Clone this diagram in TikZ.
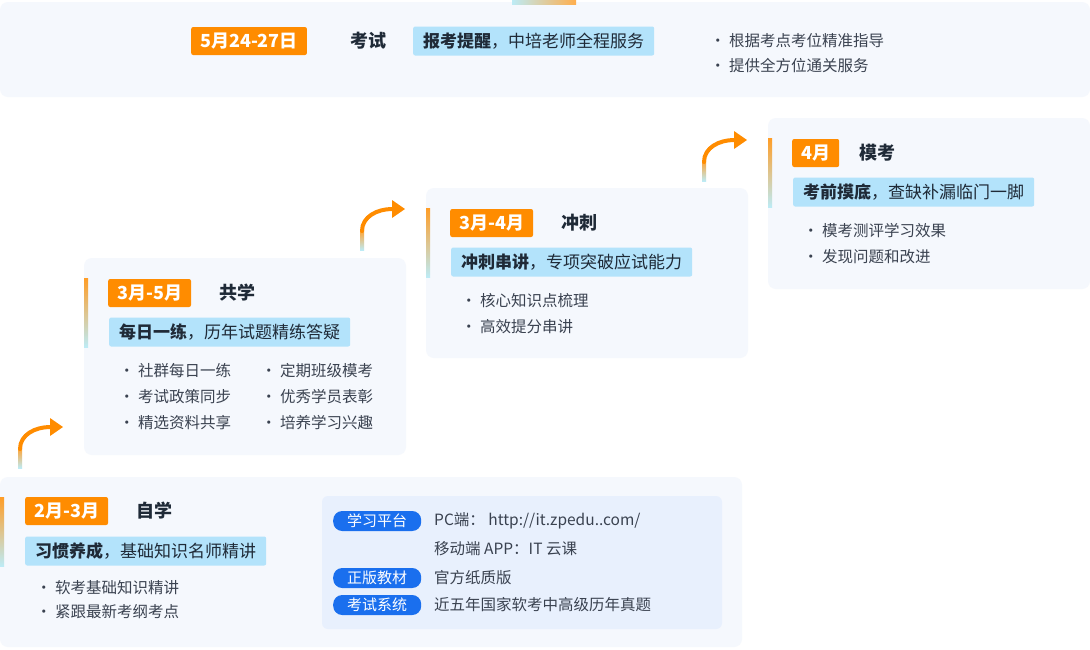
\documentclass[tikz,border=0pt]{standalone}
\usepackage{fontspec}
\setmainfont{Noto Sans CJK SC}
\definecolor{cardbg}{HTML}{F5F8FD}
\definecolor{innerbg}{HTML}{E8F0FD}
\definecolor{orng}{HTML}{FF8C00}
\definecolor{labbg}{HTML}{B3E3FB}
\definecolor{pillc}{HTML}{1A6FEE}
\definecolor{txt}{HTML}{1F2A37}
\definecolor{gtxt}{HTML}{3A4250}
\definecolor{lblue}{HTML}{BDEBF5}
\tikzset{
 card/.style={fill=cardbg,rounded corners=8pt,draw=none},
 tag/.style={fill=orng,text=white,rounded corners=2pt,anchor=west,minimum height=28pt,inner xsep=9pt,inner ysep=0pt,font=\fontsize{18}{20}\selectfont\bfseries},
 ttl/.style={anchor=west,text=txt,font=\fontsize{18}{20}\selectfont\bfseries,inner sep=0pt},
 lab/.style={fill=labbg,text=txt,rounded corners=2pt,anchor=west,minimum height=29pt,inner xsep=10pt,inner ysep=0pt,font=\fontsize{17}{20}\selectfont},
 bul/.style={anchor=west,text=gtxt,inner sep=0pt,font=\fontsize{15.5}{18}\selectfont},
 pill/.style={fill=pillc,text=white,rounded corners=9pt,anchor=west,minimum height=20pt,minimum width=88pt,inner sep=0pt,font=\fontsize{15}{17}\selectfont},
 arr/.style={orng,line width=4pt,line cap=round},
}
\newcommand{\accbar}[2]{\shade[top color=orng!85,bottom color=lblue] (#1,#2) rectangle ++(4,69);}
\newcommand{\upar}[2]{%
 \shade[top color=orng!80,bottom color=lblue] (#1-2,#2) rectangle (#1+2,#2-20);
 \draw[arr] (#1,#2-19) to[out=90,in=180] (#1+30,#2-41);
 \fill[orng] (#1+30,#2-50) -- (#1+43,#2-41) -- (#1+30,#2-32) -- cycle;}
\begin{document}
\begin{tikzpicture}[x=1pt,y=-1pt]
\useasboundingbox (0,0) rectangle (1090,649);
\fill[white] (0,0) rectangle (1090,649);
% top card
\fill[card] (0,2) rectangle (1090,97);
\shade[left color=lblue,right color=orng!70] (512,0) rectangle (576,4);
\node[tag] (t5) at (191,41) {5月24-27日};
\node[ttl] (h5) at (350,41) {考试};
\node[lab] (l5) at (413,41) {\textbf{报考提醒}，中培老师全程服务};
\node[bul] (b5a) at (710,41) {· 根据考点考位精准指导};
\node[bul] (b5b) at (710,66) {· 提供全方位通关服务};
% card 4
\fill[card] (768,118) rectangle (1090,289);
\accbar{768}{138}
\node[tag] (t4) at (792,153) {4月};
\node[ttl] (h4) at (859,153) {模考};
\node[lab] (l4) at (793,192) {\textbf{考前摸底}，查缺补漏临门一脚};
\node[bul] (b4a) at (803,231) {· 模考测评学习效果};
\node[bul] (b4b) at (803,257) {· 发现问题和改进};
% card 3
\fill[card] (426,188) rectangle (748,358);
\accbar{426}{208}
\node[tag] (t3) at (450,223) {3月-4月};
\node[ttl] (h3) at (561,223) {冲刺};
\node[lab] (l3) at (451,262) {\textbf{冲刺串讲}，专项突破应试能力};
\node[bul] (b3a) at (461,301) {· 核心知识点梳理};
\node[bul] (b3b) at (461,327) {· 高效提分串讲};
% card 2
\fill[card] (84,258) rectangle (406,455);
\accbar{84}{278}
\node[tag] (t2) at (108,293) {3月-5月};
\node[ttl] (h2) at (219,293) {共学};
\node[lab] (l2) at (109,332) {\textbf{每日一练}，历年试题精练答疑};
\node[bul] (b2a) at (119,371) {· 社群每日一练};
\node[bul] (b2b) at (119,397) {· 考试政策同步};
\node[bul] (b2c) at (119,423) {· 精选资料共享};
\node[bul] (b2d) at (261,371) {· 定期班级模考};
\node[bul] (b2e) at (261,397) {· 优秀学员表彰};
\node[bul] (b2f) at (261,423) {· 培养学习兴趣};
% card 1
\fill[card] (0,477) rectangle (742,647);
\accbar{0}{497}
\node[tag] (t1) at (25,511) {2月-3月};
\node[ttl] (h1) at (136,511) {自学};
\node[lab] (l1) at (25,551) {\textbf{习惯养成}，基础知识名师精讲};
\node[bul] (b1a) at (36,588) {· 软考基础知识精讲};
\node[bul] (b1b) at (36,612) {· 紧跟最新考纲考点};
\fill[innerbg,rounded corners=6pt] (322,496) rectangle (722,629);
\node[pill] (p1) at (333,521) {学习平台};
\node[bul] (i1) at (434,521) {PC端： http://it.zpedu..com/};
\node[bul] (i2) at (434,549) {移动端 APP：IT 云课};
\node[pill] (p2) at (333,578) {正版教材};
\node[bul] (i3) at (434,578) {官方纸质版};
\node[pill] (p3) at (333,605) {考试系统};
\node[bul] (i4) at (434,605) {近五年国家软考中高级历年真题};
% arrows
\upar{20}{468}
\upar{362}{250}
\upar{704}{181}
\end{tikzpicture}
\end{document}
